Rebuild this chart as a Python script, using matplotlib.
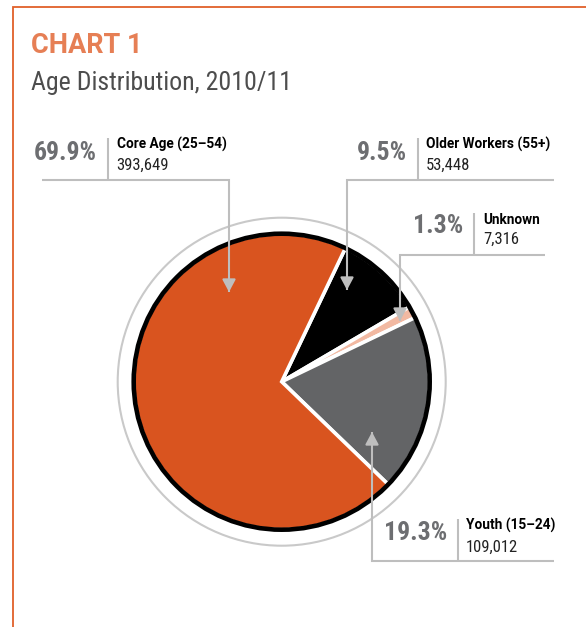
import matplotlib
matplotlib.use("Agg")
import matplotlib.pyplot as plt
from matplotlib.patches import Circle

W, H = 586, 627

# Data
categories = ["Older Workers (55+)", "Unknown", "Youth (15–24)", "Core Age (25–54)"]
counts = [53448, 7316, 109012, 393649]
pct_labels = ["9.5%", "1.3%", "19.3%", "69.9%"]
count_labels = ["53,448", "7,316", "109,012", "393,649"]
colors = ["#000000", "#F2B9A2", "#636466", "#D9541F"]

COND = ["Roboto Condensed", "DejaVu Sans"]
WIDE = ["Roboto", "DejaVu Sans"]
plt.rcParams["font.family"] = COND

fig = plt.figure(figsize=(W / 100, H / 100), dpi=100)
ax = fig.add_axes([0, 0, 1, 1])


def Y(y):
    return H - y


GRAY_LINE = "#BEBEBE"
PCT_COLOR = "#6D6E71"

cx, cy, r = 281.7, 381.7, 148

# Outer thin ring
ax.add_patch(Circle((cx, Y(cy)), 164, fill=False, edgecolor="#C9C9C9", lw=1.5, zorder=1))

ax.pie(counts, colors=colors, startangle=64.5, counterclock=False,
       center=(cx, Y(cy)), radius=r,
       wedgeprops=dict(edgecolor="white", linewidth=2.6, joinstyle="miter"))

# Black outline
ax.add_patch(Circle((cx, Y(cy)), r, fill=False, edgecolor="black", lw=3.3, zorder=5))

# Frame
ax.plot([12.5, 12.5, W + 5], [Y(H + 5), Y(7.3), Y(7.3)], color="#E0602A", lw=1.3,
        solid_joinstyle="miter", zorder=2)

# Titles
ax.text(31, Y(53.3), "CHART 1", color="#E67F55", fontsize=19.5, fontweight="bold",
        family=WIDE, ha="left", va="baseline")
ax.text(31, Y(90), "Age Distribution, 2010/11", color="#4D4D4D", fontsize=18.6,
        fontweight="normal", ha="left", va="baseline")


def leader(points, tip):
    xs = [p[0] for p in points] + [tip[0]]
    ys = [Y(p[1]) for p in points] + [Y(tip[1])]
    ax.plot(xs, ys, color=GRAY_LINE, lw=1.5, solid_joinstyle="miter",
            solid_capstyle="butt", zorder=6)
    last = points[-1]
    dy = 1 if tip[1] > last[1] else -1
    ax.annotate("", xy=(tip[0], Y(tip[1])), xytext=(tip[0], Y(tip[1] - dy * 12)),
                arrowprops=dict(arrowstyle="-|>,head_length=0.75,head_width=0.4",
                                mutation_scale=10, color=GRAY_LINE, lw=1.5,
                                shrinkA=0, shrinkB=0), zorder=7)


def label(pct, name, count, pct_right, pct_base, sep_x, sep_top, sep_bot,
          text_x, name_base, count_base):
    ax.text(pct_right, Y(pct_base), pct, color=PCT_COLOR, fontsize=18.5,
            fontweight="bold", ha="right", va="baseline")
    ax.plot([sep_x, sep_x], [Y(sep_top), Y(sep_bot)], color=GRAY_LINE, lw=1.5,
            solid_capstyle="butt")
    ax.text(text_x, Y(name_base), name, color="black", fontsize=9.8,
            fontweight="bold", family=WIDE, ha="left", va="baseline")
    ax.text(text_x, Y(count_base), count, color="#222222", fontsize=12,
            ha="left", va="baseline")


# Core Age
label(pct_labels[3], categories[3], count_labels[3], 97, 160.5, 107.7, 138, 180,
      116.7, 149, 170)
leader([(42, 180), (229, 180)], (229, 292))

# Older Workers
label(pct_labels[0], categories[0], count_labels[0], 407, 160, 418, 138, 180,
      426, 148.5, 169.5)
leader([(554, 180), (347, 180)], (347, 290))

# Unknown
label(pct_labels[1], categories[1], count_labels[1], 463, 233, 474.3, 213, 255,
      483, 224, 244)
leader([(545, 255), (400, 255)], (400, 321))

# Youth
label(pct_labels[2], categories[2], count_labels[2], 447.5, 540, 458.3, 519, 560.7,
      466, 530, 551.7)
leader([(554, 560.7), (372, 560.7)], (372, 432))

ax.set_xlim(0, W)
ax.set_ylim(0, H)
ax.set_aspect("equal")
ax.axis("off")

fig.savefig("out.png", dpi=100, facecolor="white")
